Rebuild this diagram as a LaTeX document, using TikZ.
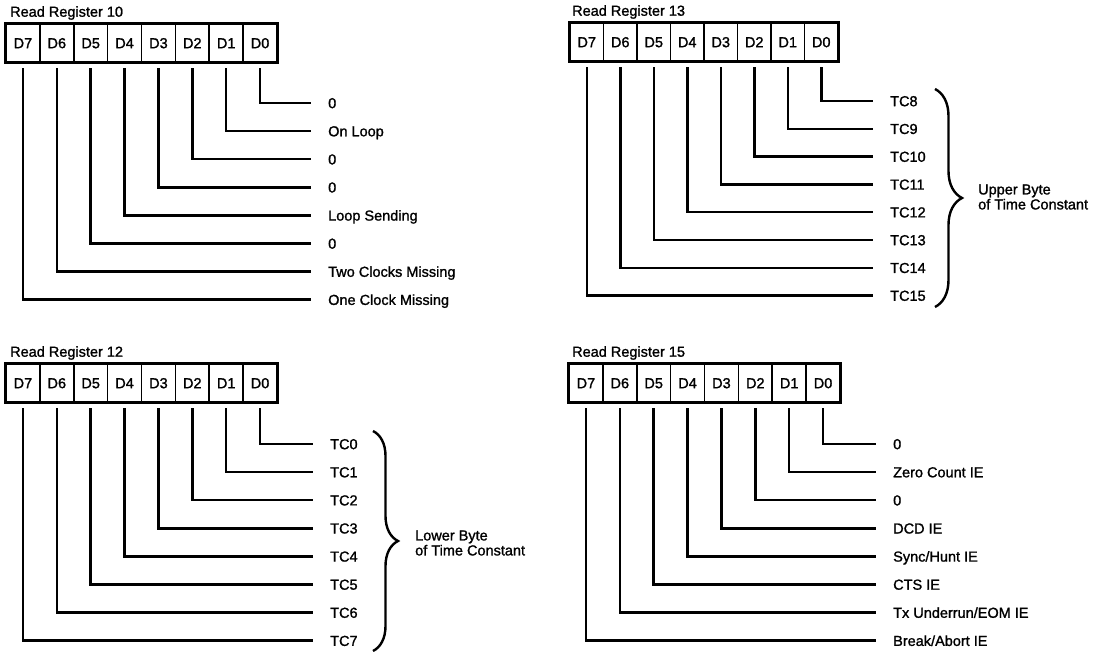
\documentclass[tikz,border=0pt]{standalone}
\usepackage{fontspec}
\setmainfont{Liberation Sans}
\newfontfamily\medfont[FakeBold=1.3]{Liberation Sans}
\usetikzlibrary{decorations.pathreplacing}
\begin{document}
\begin{tikzpicture}[x=1pt,y=-1pt,
  font=\medfont\fontsize{14.5}{15}\selectfont,
  cellbox/.style={draw, line width=1.6pt, minimum width=#1, minimum height=38pt,
    inner sep=0pt, text height=10.4pt, text depth=0pt},
  frame/.style={draw, line width=3pt},
  lab/.style={anchor=west, inner xsep=18pt, inner ysep=0pt, text height=10.4pt, text depth=0pt},
  ttl/.style={anchor=west, inner sep=0pt},
  conn/.style={line width=2.5pt, line cap=rect},
  bracestyle/.style={line width=2.4pt, decorate, decoration={brace, amplitude=#1, aspect=0.5}},
  bracelab/.style={anchor=west, inner sep=0pt, align=left}]
\useasboundingbox (0,0) rectangle (1101,652);

% ---------- Read Register 10 ----------
\node[ttl] (t10) at (10,13) {Read Register 10};
\foreach \i in {0,...,7}
  \node[cellbox=33.875pt] (a\i) at ({6+33.875*(7-\i)+16.94},43) {D\i};
\draw[frame] (a7.north west) rectangle (a0.south east);
\foreach \i/\t in {0/0,1/On Loop,2/0,3/0,4/Loop Sending,5/0,6/Two Clocks Missing,7/One Clock Missing}{
  \node[lab] (al\i) at (310,{103+28.1*\i}) {\t};
  \draw[conn] ([yshift=-6pt]a\i.south) |- (al\i.west);
}

% ---------- Read Register 13 ----------
\node[ttl] (t13) at (572,12) {Read Register 13};
\foreach \i in {0,...,7}
  \node[cellbox=33.5pt] (b\i) at ({570+33.5*(7-\i)+16.75},42) {D\i};
\draw[frame] (b7.north west) rectangle (b0.south east);
\foreach \i in {0,...,7}{
  \pgfmathtruncatemacro{\n}{\i+8}
  \node[lab] (bl\i) at (872,{101+27.8*\i}) {TC\n};
  \draw[conn] ([yshift=-6pt]b\i.south) |- (bl\i.west);
}
\draw[bracestyle=27pt] (935,89) -- (935,307);
\node[bracelab] (bu) at (978,197) {Upper Byte\\of Time Constant};

% ---------- Read Register 12 ----------
\node[ttl] (t12) at (10,353) {Read Register 12};
\foreach \i in {0,...,7}
  \node[cellbox=33.875pt] (c\i) at ({6+33.875*(7-\i)+16.94},383) {D\i};
\draw[frame] (c7.north west) rectangle (c0.south east);
\foreach \i in {0,...,7}{
  \node[lab] (cl\i) at (312,{444+28.1*\i}) {TC\i};
  \draw[conn] ([yshift=-6pt]c\i.south) |- (cl\i.west);
}
\draw[bracestyle=25pt] (373,431) -- (373,651);
\node[bracelab] (cu) at (415,543) {Lower Byte\\of Time Constant};

% ---------- Read Register 15 ----------
\node[ttl] (t15) at (572,353) {Read Register 15};
\foreach \i in {0,...,7}
  \node[cellbox=33.875pt] (d\i) at ({569+33.875*(7-\i)+16.94},383) {D\i};
\draw[frame] (d7.north west) rectangle (d0.south east);
\foreach \i/\t in {0/0,1/Zero Count IE,2/0,3/DCD IE,4/{Sync/Hunt IE},5/CTS IE,6/{Tx Underrun/EOM IE},7/{Break/Abort IE}}{
  \node[lab] (dl\i) at (875,{444+28.1*\i}) {\t};
  \draw[conn] ([yshift=-6pt]d\i.south) |- (dl\i.west);
}
\end{tikzpicture}
\end{document}
